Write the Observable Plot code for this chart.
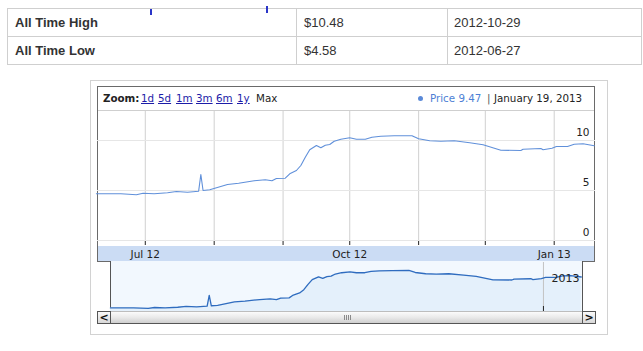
<!DOCTYPE html>
<html><head><meta charset="utf-8">
<script src="https://cdn.jsdelivr.net/npm/d3@7"></script>
<script src="https://cdn.jsdelivr.net/npm/@observablehq/plot@0.6"></script>
<style>
html,body{margin:0;padding:0;background:#fff;}
body{width:643px;height:351px;position:relative;overflow:hidden;font-family:"DejaVu Sans",Verdana,sans-serif;}
.abs{position:absolute;}
#tbl{position:absolute;left:7px;top:8px;border-collapse:collapse;font-family:"Liberation Sans",Arial,sans-serif;font-size:13px;color:#333;}
#tbl td{border:1px solid #cfcfcf;height:28px;padding:0 0 0 7px;box-sizing:border-box;}
#tbl td.c1{width:289px;font-weight:bold;}
#tbl td.c2{width:151px;}
#tbl td.c3{width:194px;padding-left:6px;}
.mark{position:absolute;width:2px;background:#2a35c8;}
#outer{left:90px;top:80px;width:518px;height:255px;border:1px solid #d2d2d2;box-sizing:border-box;}
#box{left:97px;top:86px;width:498px;height:176px;border:1px solid #6a6a6a;box-sizing:border-box;}
#hdrline{left:98px;top:110px;width:496px;height:1px;background:#cfcfcf;}
#band{left:98px;top:246px;width:496px;height:15px;background:#cbdcf4;}
.hd{position:absolute;top:92px;font-size:10.3px;line-height:13px;white-space:nowrap;color:#222;}
.lnk{color:#1c1ca8;text-decoration:underline;}
#nav{left:110px;top:261px;width:473px;height:51px;border-left:1px solid #555;border-right:1px solid #555;background:#f2f8fe;box-sizing:border-box;}
#scroll{left:97px;top:311px;width:498px;height:13px;border:1px solid #555;border-top:1px solid #bdbdbd;box-sizing:border-box;background:linear-gradient(#fbfbfb,#e9e9e9 50%,#cfcfcf);}
.btn{position:absolute;top:311px;width:14px;height:13px;border:1px solid #555;box-sizing:border-box;background:linear-gradient(#fafafa,#d8d8d8);font-weight:bold;font-size:11px;line-height:11px;text-align:center;color:#111;}
#grip{left:344px;top:315px;width:8px;height:5px;background:repeating-linear-gradient(90deg,#8a8a8a 0 1px,transparent 1px 2px);}
</style></head><body>
<div id="root"></div>
<script>
// ---- data ----
const tableLabels = ["All Time High", "All Time Low"];
const tableValues = ["$10.48", "$4.58"];
const tableDates = ["2012-10-29", "2012-06-27"];

const zoomLinks = ["1d", "5d", "1m", "3m", "6m", "1y"];
const currentPrice = "9.47";
const currentDate = "January 19, 2013";

const dates = [
  "2012-06-09","2012-06-20","2012-06-27","2012-06-30","2012-07-05","2012-07-11","2012-07-15",
  "2012-07-20","2012-07-25","2012-07-26","2012-07-27","2012-07-30","2012-08-07","2012-08-12",
  "2012-08-19","2012-08-24","2012-08-27","2012-08-29","2012-09-02","2012-09-04","2012-09-07",
  "2012-09-09","2012-09-11","2012-09-13","2012-09-16","2012-09-18","2012-09-20","2012-09-22",
  "2012-09-24","2012-09-27","2012-10-01","2012-10-04","2012-10-08","2012-10-11","2012-10-15",
  "2012-10-21","2012-10-29","2012-11-01","2012-11-06","2012-11-11","2012-11-17","2012-11-24",
  "2012-11-30","2012-12-08","2012-12-17","2012-12-18","2012-12-26","2012-12-27","2012-12-31",
  "2013-01-02","2013-01-07","2013-01-10","2013-01-14","2013-01-19"
];
const prices = [
  4.67,4.67,4.58,4.73,4.67,4.77,4.90,
  4.83,4.93,6.60,5.00,5.07,5.60,5.73,
  5.97,6.07,5.97,6.20,6.23,6.67,7.00,
  7.50,8.33,9.07,9.50,9.27,9.53,9.60,
  9.93,10.13,10.27,10.13,10.13,10.33,10.43,
  10.47,10.48,10.17,9.97,9.93,9.97,9.77,
  9.57,9.03,9.00,9.13,9.20,9.07,9.23,
  9.40,9.40,9.63,9.67,9.47
];
const xDomainStr = ["2012-06-09T12:00:00Z", "2013-01-19T14:00:00Z"];
const monthTickStr = ["2012-07-01","2012-08-01","2012-09-01","2012-10-01","2012-11-01","2012-12-01","2013-01-01"];
const monthLabels = ["Jul 12","","","Oct 12","","","Jan 13"];
const yTicks = [0, 5, 10];
const yDomain = [0, 12.9];
const navYDomain = [4.11, 11.72];
const yearMarkStr = ["2013-01-01"];
const yearLabels = ["2013"];

// ---- build ----
const root = document.getElementById("root");
function el(tag, cls, parent, html) { const e = document.createElement(tag); if (cls) e.className = cls; if (html != null) e.innerHTML = html; (parent || root).appendChild(e); return e; }

// table
const tbl = el("table", null); tbl.id = "tbl";
tableLabels.forEach((l, i) => {
  const tr = el("tr", null, tbl);
  el("td", "c1", tr, l); el("td", "c2", tr, tableValues[i]); el("td", "c3", tr, tableDates[i]);
});
const m1 = el("div", "mark"); m1.style.cssText = "left:150px;top:9px;height:6px;";
const m2 = el("div", "mark"); m2.style.cssText = "left:266px;top:6px;height:7px;";

// widget frame
const outer = el("div", "abs"); outer.id = "outer";
const box = el("div", "abs"); box.id = "box";
const hl = el("div", "abs"); hl.id = "hdrline";
const band = el("div", "abs"); band.id = "band";

// header
const z = el("div", "hd"); z.style.left = "103px"; z.style.fontWeight = "bold"; z.textContent = "Zoom:";
const linkX = [141, 158, 176, 196, 216, 237];
zoomLinks.forEach((t, i) => { const a = el("div", "hd lnk"); a.style.left = linkX[i] + "px"; a.textContent = t; });
const mx = el("div", "hd"); mx.style.left = "256px"; mx.textContent = "Max";
const dot = el("div", "abs"); dot.style.cssText = "left:418px;top:96px;width:5px;height:5px;border-radius:50%;background:#5b8ad8;";
const pr = el("div", "hd"); pr.style.left = "430px"; pr.style.color = "#4d7fd5"; pr.textContent = "Price " + currentPrice;
const sep = el("div", "hd"); sep.style.left = "487px"; sep.style.color = "#555"; sep.textContent = "|";
const dt = el("div", "hd"); dt.style.left = "494px"; dt.textContent = currentDate;

// data
const series = dates.map((d, i) => ({date: new Date(d + "T00:00:00Z"), price: prices[i]}));
const xDomain = xDomainStr.map(s => new Date(s));
const monthTicks = monthTickStr.map(s => new Date(s + "T00:00:00Z"));
const labelFor = d => { const i = monthTicks.findIndex(t => +t === +d); return i >= 0 ? monthLabels[i] : ""; };
const yearMarks = yearMarkStr.map(s => new Date(s + "T00:00:00Z"));

// main chart
const main = Plot.plot({
  width: 498, height: 151,
  marginTop: 0, marginRight: 0, marginBottom: 22, marginLeft: 0,
  style: {background: "transparent", fontFamily: "DejaVu Sans, Verdana, sans-serif", fontSize: "10.5px", color: "#222", overflow: "visible"},
  x: {type: "utc", domain: xDomain, ticks: monthTicks, tickFormat: labelFor, tickSize: 5, tickPadding: 5, label: null},
  y: {domain: yDomain, axis: null},
  marks: [
    Plot.ruleX(monthTicks, {stroke: "#d0d0d0", strokeOpacity: 1}),
    Plot.ruleY(yTicks, {stroke: "#e6e6e6", strokeOpacity: 1}),
    Plot.line(series, {x: "date", y: "price", stroke: "#6090da", strokeWidth: 1.1}),
    Plot.text(yTicks, {y: d => d, text: d => String(d), frameAnchor: "right", dx: -6, dy: -8, textAnchor: "end", fontSize: 10.5, fill: "#222"})
  ]
});
const mw = el("div", "abs"); mw.style.cssText = "left:97px;top:111px;";
mw.appendChild(main);

// navigator
const nav = el("div", "abs"); nav.id = "nav";
const navPlot = Plot.plot({
  width: 471, height: 49, marginTop: 0, marginRight: 0, marginBottom: 0, marginLeft: 0,
  style: {background: "transparent", fontFamily: "DejaVu Sans, Verdana, sans-serif", fontSize: "11px", overflow: "visible"},
  x: {type: "utc", domain: xDomain, axis: null},
  y: {domain: navYDomain, axis: null},
  marks: [
    Plot.areaY(series, {x: "date", y1: () => navYDomain[0], y2: "price", fill: "#e4f0fb"}),
    Plot.ruleX(yearMarks, {stroke: "#c2c2c2", strokeOpacity: 1}),
    Plot.ruleX(yearMarks, {stroke: "#222", insetTop: 44, strokeOpacity: 1}),
    Plot.line(series, {x: "date", y: "price", stroke: "#2f6cbf", strokeWidth: 1.3}),
    Plot.text(yearMarks, {x: d => d, text: (d, i) => yearLabels[i], frameAnchor: "top", dx: 8, dy: 12, textAnchor: "start", fontSize: 11, fill: "#222"})
  ]
});
const nw = el("div", "abs"); nw.style.cssText = "left:111px;top:262px;";
nw.appendChild(navPlot);

// scrollbar
const sc = el("div", "abs"); sc.id = "scroll";
const lb = el("div", "btn"); lb.style.left = "97px"; lb.textContent = "<";
const rb = el("div", "btn"); rb.style.left = "582px"; rb.textContent = ">";
const gr = el("div", "abs"); gr.id = "grip";
</script>
</body></html>
